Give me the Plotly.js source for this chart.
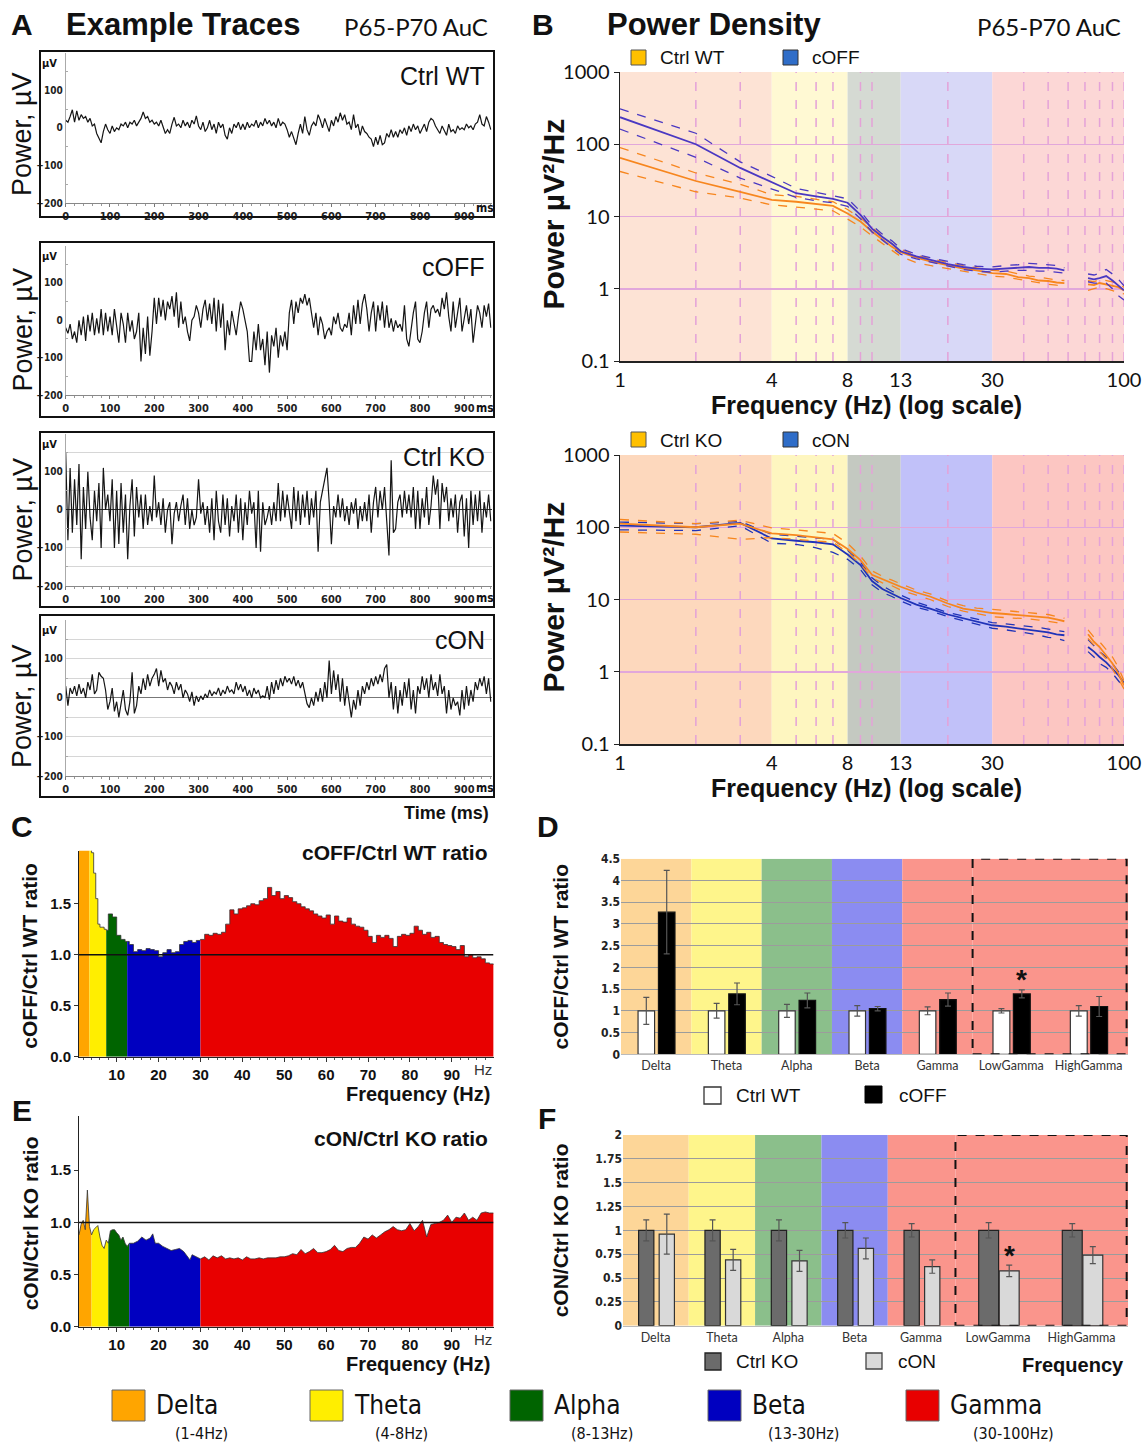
<!DOCTYPE html>
<html><head><meta charset="utf-8">
<script src="https://cdn.plot.ly/plotly-3.0.1.min.js"></script>
<style>html,body{margin:0;padding:0;background:#fff}#chart{width:1143px;height:1445px}</style>
</head><body><div id="chart"></div>
<script>
// ================= DATA =================
// Panel A: example traces (µV), one value every 5 ms from 0 ms
const traceStepMs = 5;
const traceCtrlWT = [20,15,30,48,15,45,20,35,25,30,15,25,5,10,-15,-30,-40,-10,10,-5,
 -15,5,-10,0,-5,10,5,15,0,15,10,20,5,15,25,42,25,30,15,20,
 10,15,5,20,0,-15,-5,-15,10,28,5,10,0,20,5,15,0,20,10,32,
 5,-5,15,-10,0,20,-5,10,-15,15,0,10,-20,-30,0,-15,10,0,15,-5,
 10,-5,15,0,10,5,20,0,15,5,25,10,20,5,15,0,25,5,15,10,
 -5,-25,-10,-30,-45,-15,10,-15,30,-5,-20,5,15,5,35,20,0,25,10,-10,
 20,5,30,15,40,20,35,10,15,-5,35,0,10,-20,5,-10,-15,-25,-30,-50,
 -25,-45,-20,-45,-40,-15,-25,-5,-25,-10,-25,-5,-15,0,-20,5,-10,10,-5,5,
 -15,0,10,-10,15,25,20,5,-5,-15,5,-10,-20,10,-10,-5,-15,5,-5,0,
 -5,10,0,5,-5,10,15,35,10,5,30,15,-5];
const traceCOFF = [-20,-35,-10,-50,-30,-60,0,-40,10,-55,15,-30,20,-40,5,-35,30,-40,20,-30,
 10,-40,30,-20,-60,20,-10,-60,20,-30,0,-50,-30,20,-110,-20,-90,10,-95,-30,
 60,-10,60,10,55,0,50,30,65,10,75,-20,50,-10,10,-30,-55,0,10,40,
 20,-20,30,55,0,45,-10,60,-30,55,-20,45,-80,0,-40,25,-10,-40,10,50,
 30,0,-30,-110,-110,-30,-80,-10,-80,-50,-120,-30,-140,-40,-70,-20,-100,-40,-70,-30,
 -80,20,55,-10,50,20,60,45,70,40,60,20,-20,20,-40,10,-10,-50,-30,-20,
 -40,10,-10,20,-20,-30,-10,-20,20,-40,40,-10,55,-10,45,70,30,-30,20,50,
 -30,40,0,50,-20,40,-20,5,-30,0,-20,-10,-30,40,-50,-70,-20,20,50,-50,
 -60,-30,20,50,-20,30,40,20,30,10,60,30,75,10,-30,50,-20,20,60,-30,
 10,40,-10,30,-60,-10,40,20,-20,40,10,45,-20];
const traceCtrlKO = [150,-80,110,-60,80,-40,120,-130,60,-50,100,-20,-80,50,-30,70,-100,110,0,40,
 -30,80,-100,50,-90,70,-60,40,-130,10,80,-70,60,-20,40,-50,40,-40,10,-30,
 90,-20,20,-40,30,-60,0,20,-90,-10,20,-30,10,40,-40,30,-50,0,-40,-20,
 80,-10,20,-40,10,-60,30,-80,50,-30,-60,40,-40,30,-70,10,-30,40,-60,30,
 -80,20,-40,50,-10,20,-100,50,-110,20,-40,-20,10,-40,20,-30,70,-30,50,-20,
 40,-10,-50,60,-30,50,-40,40,-20,50,-40,30,-20,50,-110,20,50,70,110,20,
 -90,10,-20,40,-20,30,-30,10,-40,20,-10,30,-50,10,-30,20,-30,40,-60,20,
 60,-20,50,0,60,-30,-120,130,-60,-50,20,40,-20,50,-10,40,-20,60,-50,50,
 -50,30,-20,60,-40,10,90,40,80,-50,70,20,60,-30,30,-20,40,-60,20,40,
 -70,30,-100,50,-40,40,-30,50,-60,20,-20,40,-30];
const traceCON = [30,-20,25,10,30,5,35,10,25,0,40,20,60,10,20,65,55,50,20,-30,
 -10,25,-35,-10,-50,-20,20,-30,-45,-10,65,-40,-20,30,10,50,20,60,30,50,
 60,75,30,70,40,50,20,40,30,10,40,20,35,0,20,10,-10,15,-20,5,
 -10,5,-5,10,0,20,5,15,10,25,5,20,10,30,15,20,10,40,20,35,
 15,30,5,20,0,25,10,20,0,5,0,30,-5,40,10,45,20,50,30,55,
 40,50,35,55,30,45,25,40,10,-15,-25,0,-20,15,-10,25,-10,40,0,95,
 10,70,20,60,-10,50,-20,30,-10,-50,-5,-30,20,-20,30,10,40,20,50,30,
 55,35,60,40,75,85,0,40,-30,30,-40,20,-20,40,0,50,-30,20,-40,30,
 10,55,20,50,0,60,20,40,5,60,10,30,-40,20,-30,0,-20,-10,-45,20,
 -30,30,-20,20,-10,40,20,50,30,55,10,50,-10];

// Panel B: power spectral density (µV²/Hz); null = gap around 60 Hz
const freqB = [1,2,3,4,5,6,7,8,9,10,11,12,13,15,17,20,23,26,30,34,38,42,46,50,54,58,null,72,76,80,85,90,95,100];
const wtMean = [65,31,22,17,16,15,14,11,8.5,6.2,4.8,3.8,3.2,2.7,2.4,2.1,1.9,1.8,1.65,1.6,1.45,1.4,1.3,1.28,1.22,1.2,null,1.15,1.12,1.2,1.15,1.1,1.05,0.95];
const wtUp   = [90,40,28,20,19,17.5,16,12.5,9.5,7,5.3,4.2,3.5,2.9,2.6,2.3,2.1,1.95,1.8,1.75,1.6,1.5,1.45,1.38,1.32,1.3,null,1.3,1.25,1.35,1.3,1.25,1.15,1.05];
const wtLow  = [42,22,18,14.5,13.5,12.8,12,9.2,7.2,5.4,4.2,3.4,2.8,2.3,2.1,1.9,1.75,1.6,1.5,1.45,1.35,1.28,1.2,1.15,1.12,1.1,null,0.95,1.0,1.05,1.0,0.95,0.9,0.85];
const offMean = [237,100,47,30,21,19,17.5,15.5,10.5,6.8,5.2,4.2,3.3,2.8,2.5,2.2,2.0,1.9,1.85,1.9,1.95,2.0,1.95,1.95,1.9,1.8,null,1.4,1.35,1.4,1.5,1.3,1.1,0.95];
const offUp   = [310,142,57,36,24.5,21.5,19.5,17.6,11.8,7.5,5.7,4.6,3.6,3.0,2.7,2.4,2.15,2.05,2.0,2.1,2.15,2.25,2.2,2.15,2.1,1.95,null,1.6,1.55,1.65,1.85,1.6,1.35,1.1];
const offLow  = [162,66,34,24,18.4,16.5,15.5,13.8,9.3,6.1,4.7,3.8,3.0,2.6,2.35,2.05,1.85,1.75,1.7,1.75,1.8,1.8,1.75,1.75,1.7,1.65,null,1.25,1.2,1.2,1.2,1.0,0.8,0.7];
const koMean = [112,100,112,82,78,73,68,50,35,22,19,17,15,12.5,11,8.8,7.5,7.0,6.5,6.3,6.1,6.0,5.8,5.6,5.3,5.0,null,3.3,2.6,2.2,1.7,1.3,0.95,0.65];
const koUp   = [128,112,125,98,92,87,82,60,40,25,21,18.5,16.5,13.5,12,9.5,8.2,7.6,7.3,7.0,6.8,6.6,6.4,6.2,5.8,5.5,null,3.8,3.0,2.6,2.0,1.6,1.15,0.75];
const koLow  = [86,80,68,72,68,65,62,45,31,20,17,15.5,13.5,11.5,10,8,6.9,6.4,5.8,5.6,5.5,5.4,5.2,5.0,4.8,4.5,null,2.9,2.3,1.9,1.5,1.1,0.8,0.58];
const onMean = [105,100,115,70,65,62,58,42,30,18,14,12,10.5,8.5,7.5,6.2,5.5,5.0,4.4,4.2,4.0,3.8,3.6,3.5,3.3,3.2,null,2.2,1.9,1.6,1.35,1.1,0.9,0.7];
const onUp   = [118,112,120,80,75,72,68,48,33,20,15.5,13,11.5,9.2,8,6.6,5.9,5.4,4.8,4.6,4.4,4.3,4.1,3.9,3.7,3.6,null,2.8,2.3,1.9,1.6,1.3,1.0,0.8];
const onLow  = [92,90,105,60,58,52,45,36,26,16,12.5,11,9.5,7.8,7,5.8,5.1,4.6,4.0,3.8,3.6,3.4,3.2,3.0,2.9,2.7,null,1.9,1.6,1.3,1.15,0.95,0.75,0.6];

// Panel C: cOFF / Ctrl WT ratio spectrum
const freqC = [1,2,3,3.5,4,4.5,5,5.5,6,7,7.5,8,9,10,11,12,12.5,13,14,15,16,17,18,19,20,21,22,23,24,25,26,27,28,29,30,
 31,32,33,34,35,36,37,38,39,40,41,42,43,44,45,46,47,48,49,50,51,52,53,54,55,56,57,58,59,60,61,62,63,64,65,66,67,68,69,70,
 71,72,73,74,75,76,77,78,79,80,81,82,83,84,85,86,87,88,89,90,91,92,93,94,95,96,97,98,99,100];
const ratioC = [2.5,2.6,2.3,2.2,2.0,1.8,1.55,1.3,1.27,1.25,1.24,1.40,1.37,1.19,1.15,1.13,1.13,1.10,1.03,1.05,1.04,1.06,1.05,1.04,0.98,1.02,1.05,1.02,1.03,1.10,1.13,1.14,1.12,1.14,1.15,
 1.20,1.19,1.21,1.20,1.22,1.30,1.44,1.40,1.45,1.46,1.48,1.50,1.49,1.53,1.55,1.66,1.58,1.62,1.55,1.58,1.56,1.52,1.50,1.47,1.45,1.43,1.40,1.38,1.36,1.39,1.30,1.38,1.33,1.32,1.36,1.30,1.28,1.27,1.24,1.18,
 1.12,1.19,1.17,1.19,1.16,1.08,1.18,1.20,1.19,1.21,1.28,1.24,1.20,1.22,1.17,1.18,1.12,1.10,1.09,1.08,1.05,1.09,0.98,1.00,0.97,0.98,0.96,0.92,0.91,0.90];
const bandEdgesC = [1,3.5,7.5,12.5,30,100];

// Panel E: cON / Ctrl KO ratio spectrum
const freqE = [1,1.5,2,2.5,3,3.5,4,4.5,5,5.5,6,6.5,7,7.5,8,8.5,9,9.5,10,10.5,11,11.5,12,12.5,13,14,15,16,17,18,18.6,19.2,20,21,22,23,24,25,26,27,27.5,28,29,30,
 31,32,33,34,35,36,37,38,39,40,41,42,43,44,45,46,47,48,49,50,51,52,53,54,55,56,57,58,59,60,61,62,63,64,65,66,67,68,69,70,
 71,72,73,74,75,76,77,78,79,80,81,82,83,84,85,86,87,88,89,90,91,92,93,94,95,96,97,98,99,100];
const ratioE = [0.88,0.98,1.02,0.93,1.31,0.96,0.88,0.93,0.95,0.97,0.86,0.78,0.75,0.83,0.80,0.92,0.93,0.93,0.90,0.88,0.83,0.86,0.80,0.77,0.80,0.80,0.82,0.86,0.83,0.85,0.89,0.80,0.80,0.77,0.75,0.73,0.74,0.75,0.72,0.66,0.64,0.69,0.67,0.65,
 0.67,0.64,0.68,0.66,0.68,0.65,0.66,0.65,0.66,0.64,0.67,0.65,0.65,0.66,0.65,0.66,0.66,0.66,0.67,0.67,0.68,0.70,0.69,0.74,0.70,0.72,0.75,0.71,0.71,0.72,0.74,0.78,0.73,0.72,0.75,0.76,0.76,0.80,0.86,0.84,
 0.88,0.85,0.88,0.91,0.93,0.96,0.93,0.92,0.93,0.99,0.92,0.96,1.02,0.86,0.98,0.99,1.00,1.02,1.07,1.00,1.05,1.04,1.09,1.02,1.05,1.02,1.09,1.10,1.09,1.09];
const bandEdgesE = [1,4,8,13,30,100];

// Panels D and F: band ratios (mean ± error)
const bandCats = ['Delta','Theta','Alpha','Beta','Gamma','LowGamma','HighGamma'];
const dCtrlWT = [1,1,1,1,1,1,1];
const dCtrlWTErr = [0.31,0.17,0.15,0.12,0.09,0.05,0.12];
const dCOFF = [3.27,1.39,1.24,1.05,1.26,1.39,1.10];
const dCOFFErr = [0.96,0.25,0.17,0.05,0.15,0.09,0.23];
const fCtrlKO = [1,1,1,1,1,1,1];
const fCtrlKOErr = [0.11,0.11,0.11,0.08,0.07,0.08,0.07];
const fCON = [0.96,0.69,0.68,0.81,0.62,0.575,0.74];
const fCONErr = [0.21,0.11,0.11,0.11,0.07,0.06,0.09];

// Legend bands
const bandNames = ['Delta','Theta','Alpha','Beta','Gamma'];
const bandRanges = ['(1-4Hz)','(4-8Hz)','(8-13Hz)','(13-30Hz)','(30-100Hz)'];
const bandFreqB = [1,4,8,13,30,100];
const dashFreqB = [2,3,5,6,7,9,10,20,40,50,60,70,80,90,100];

// ================= STYLE / LAYOUT =================
const W = 1143, H = 1445;
const SANS = 'Liberation Sans, Arial, sans-serif';
const NARROW = 'Liberation Sans Narrow, Arial Narrow, DejaVu Sans Condensed, Liberation Sans, sans-serif';
const CAL = 'Lato, Carlito, Liberation Sans, sans-serif';
const dx = (l, r) => [l / W, r / W];
const dy = (t, b) => [1 - b / H, 1 - t / H];

const traces = [];
const shapes = [];
const annotations = [];
const layout = {
  width: W, height: H, margin: {l: 0, r: 0, t: 0, b: 0},
  paper_bgcolor: '#fff', plot_bgcolor: 'rgba(0,0,0,0)', showlegend: false,
  shapes, annotations
};

function txt(x, y, text, size, o = {}) {
  annotations.push({
    xref: 'paper', yref: 'paper', x: x / W, y: 1 - y / H, text, showarrow: false,
    xanchor: o.xa || 'center', yanchor: o.ya || 'middle', textangle: o.angle || 0,
    font: {family: o.family || SANS, size, color: o.color || '#111', weight: o.weight || 'normal'}
  });
}
function rectPx(x0, y0, x1, y1, fill, line, lw, dash) {
  shapes.push({type: 'rect', xref: 'paper', yref: 'paper', x0: x0 / W, x1: x1 / W, y0: 1 - y1 / H, y1: 1 - y0 / H,
    fillcolor: fill || 'rgba(0,0,0,0)', line: {color: line || 'rgba(0,0,0,0)', width: lw || 0, dash: dash || 'solid'}, layer: 'above'});
}

// ---------- Panel A ----------
const aTraces = [traceCtrlWT, traceCOFF, traceCtrlKO, traceCON];
const aNames = ['Ctrl WT', 'cOFF', 'Ctrl KO', 'cON'];
const aPlot = [[53, 203], [246, 395], [434, 586], [620, 776]];
const aBox = [[51, 217], [242, 417], [432, 607], [615, 797]];
const aGrid = [false, false, true, true];
aTraces.forEach((vals, k) => {
  const i = k + 1;
  traces.push({x: vals.map((v, j) => j * traceStepMs), y: vals, xaxis: 'x' + i, yaxis: 'y' + i,
    type: 'scatter', mode: 'lines', line: {color: '#151515', width: 1.2}, hoverinfo: 'skip'});
  layout['xaxis' + i] = {domain: dx(65.7, 491.7), range: [0, 962], anchor: 'y' + i, tickmode: 'linear', tick0: 0, dtick: 100,
    ticks: 'outside', ticklen: 3, tickcolor: '#777', showline: true, linecolor: '#888', showgrid: false, zeroline: false,
    tickfont: {family: NARROW, size: 11, weight: 'bold', color: '#222'},
    minor: {dtick: 20, tick0: 0, ticks: 'outside', ticklen: 2, tickcolor: '#999'}};
  layout['yaxis' + i] = {domain: dy(aPlot[k][0], aPlot[k][1]), range: [-200, 199], anchor: 'x' + i, tickmode: 'linear', tick0: -200, dtick: 100,
    ticks: '', showline: true, linecolor: '#aaa', showgrid: aGrid[k], gridcolor: '#d6d6d6',
    zeroline: aGrid[k], zerolinecolor: k === 2 ? '#333' : '#777', zerolinewidth: 1,
    tickfont: {family: NARROW, size: 10, weight: 'bold', color: '#222'},
    minor: {dtick: 50, tick0: 0, ticks: 'inside', ticklen: 2, tickcolor: '#aaa', showgrid: aGrid[k], gridcolor: '#d6d6d6'}};
  rectPx(40, aBox[k][0], 494, aBox[k][1], null, '#111', 2);
  txt(487, aBox[k][0] + 25, aNames[k], 25, {xa: 'right'});
  txt(22, (aBox[k][0] + aBox[k][1]) / 2, 'Power, µV', 27, {angle: -90});
  txt(49, aPlot[k][0] + 10, 'µV', 11, {family: NARROW, weight: 'bold'});
  txt(485, aBox[k][1] - 9, 'ms', 12, {family: NARROW, weight: 'bold'});
});
txt(22, 24, 'A', 30, {weight: 'bold'});
txt(64, 24, 'Example Traces', 31, {weight: 'bold', xa: 'left'});
txt(490, 27, 'P65-P70 AuC', 24, {family: CAL, xa: 'right'});
txt(491, 813, 'Time (ms)', 18, {weight: 'bold', xa: 'right'});

// ---------- Panel B ----------
const bBandTop = ['#fde3d5', '#fff9d3', '#d5dad3', '#d8d8f7', '#fcd7d6'];
const bBandBot = ['#fdd8bd', '#fef6c0', '#c4c9c1', '#c1c1f9', '#fcc6c2'];
function bPanel(i, top, bottom, bands, sets, legendY, legendNames) {
  layout['xaxis' + i] = {domain: dx(620, 1124), type: 'log', range: [0, 2], anchor: 'y' + i, tickmode: 'array',
    tickvals: [1, 4, 8, 13, 30, 100], ticktext: ['1', '4', '8', '13', '30', '100'], ticks: '', showline: true,
    linecolor: '#222', linewidth: 1.5, showgrid: false, zeroline: false, tickfont: {family: CAL, size: 20, color: '#111'}};
  layout['yaxis' + i] = {domain: dy(top, bottom), type: 'log', range: [-1, 3], anchor: 'x' + i, tickmode: 'array',
    tickvals: [0.1, 1, 10, 100, 1000], ticktext: ['0.1', '1', '10', '100', '1000'], ticks: 'outside', ticklen: 5,
    tickcolor: '#222', showline: true, linecolor: '#222', linewidth: 1.5, showgrid: true, gridcolor: '#e1a7db',
    gridwidth: 1.5, zeroline: false, tickfont: {family: CAL, size: 20, color: '#111'}};
  for (let b = 0; b < 5; b++) {
    shapes.push({type: 'rect', xref: 'x' + i, yref: 'y' + i + ' domain', x0: bandFreqB[b], x1: bandFreqB[b + 1], y0: 0, y1: 1,
      fillcolor: bands[b], line: {width: 0}, layer: 'below'});
  }
  dashFreqB.forEach(f => shapes.push({type: 'line', xref: 'x' + i, yref: 'y' + i + ' domain', x0: f, x1: f, y0: 0, y1: 1,
    line: {color: '#e4a2d8', width: 1.5, dash: 'dash'}, layer: 'below'}));
  sets.forEach(s => {
    traces.push({x: freqB, y: s.y, xaxis: 'x' + i, yaxis: 'y' + i, type: 'scatter', mode: 'lines', connectgaps: false,
      line: {color: s.c, width: s.dash ? 1.3 : 1.8, dash: s.dash ? 'dash' : 'solid'}, hoverinfo: 'skip'});
  });
  // legend
  rectPx(631, legendY - 8, 646, legendY + 7, '#ffc000', '#555', 1);
  txt(658, legendY, legendNames[0], 19, {xa: 'left'});
  rectPx(783, legendY - 8, 798, legendY + 7, '#2f6dc8', '#333', 1);
  txt(810, legendY, legendNames[1], 19, {xa: 'left'});
  txt(553, (top + bottom) / 2 - 2, 'Power µV²/Hz', 30, {weight: 'bold', angle: -90});
  txt(866, bottom + 44, 'Frequency (Hz) (log scale)', 25, {weight: 'bold'});
}
const ORANGE = '#f7861e', PURPLE = '#4a38c2', BLUE = '#1f33b8';
bPanel(5, 72, 361, bBandTop, [
  {y: wtUp, c: ORANGE, dash: true}, {y: wtLow, c: ORANGE, dash: true}, {y: wtMean, c: ORANGE},
  {y: offUp, c: PURPLE, dash: true}, {y: offLow, c: PURPLE, dash: true}, {y: offMean, c: PURPLE}
], 58, ['Ctrl WT', 'cOFF']);
bPanel(6, 455, 744, bBandBot, [
  {y: onUp, c: BLUE, dash: true}, {y: onLow, c: BLUE, dash: true}, {y: onMean, c: BLUE},
  {y: koUp, c: ORANGE, dash: true}, {y: koLow, c: ORANGE, dash: true}, {y: koMean, c: ORANGE}
], 440, ['Ctrl KO', 'cON']);
txt(543, 24, 'B', 30, {weight: 'bold'});
txt(605, 24, 'Power Density', 31, {weight: 'bold', xa: 'left'});
txt(1123, 27, 'P65-P70 AuC', 24, {family: CAL, xa: 'right'});

// ---------- Panels C & E ----------
const ratioColors = ['#ffa500', '#ffee00', '#006400', '#0000c0', '#e80000'];
function ratioPanel(i, top, bottom, freq, vals, edges, shape, title, titleY, ytitle) {
  for (let b = 0; b < 5; b++) {
    const xs = [], ys = [];
    freq.forEach((f, j) => { if (f >= edges[b] && f <= edges[b + 1]) { xs.push(f); ys.push(vals[j]); } });
    traces.push({x: xs, y: ys, xaxis: 'x' + i, yaxis: 'y' + i, type: 'scatter', mode: 'lines', fill: 'tozeroy',
      fillcolor: ratioColors[b], line: {color: '#333', width: 0.8, shape}, hoverinfo: 'skip'});
  }
  layout['xaxis' + i] = {domain: dx(79, 493.5), range: [1, 99.95], anchor: 'y' + i, tickmode: 'linear', tick0: 10, dtick: 10,
    ticks: 'outside', ticklen: 4, tickcolor: '#333', showline: true, linecolor: '#222', showgrid: false, zeroline: false,
    tickfont: {family: SANS, size: 15, weight: 'bold', color: '#111'},
    minor: {dtick: 2, tick0: 0, ticks: 'outside', ticklen: 2, tickcolor: '#555'}};
  layout['yaxis' + i] = {domain: dy(top, bottom), range: [0, 2.02], anchor: 'x' + i, tickmode: 'array',
    tickvals: [0, 0.5, 1, 1.5], ticktext: ['0.0', '0.5', '1.0', '1.5'], ticks: 'outside', ticklen: 4, tickcolor: '#333',
    showline: true, linecolor: '#222', showgrid: false, zeroline: false,
    tickfont: {family: SANS, size: 15, weight: 'bold', color: '#111'}};
  shapes.push({type: 'line', xref: 'x' + i, yref: 'y' + i, x0: 1, x1: 99.95, y0: 1, y1: 1, line: {color: '#111', width: 1.5}, layer: 'above'});
  txt(490, titleY, title, 21, {weight: 'bold', xa: 'right'});
  txt(30, (top + bottom) / 2 + 2, ytitle, 21, {weight: 'bold', angle: -90});
  txt(483, bottom + 13, 'Hz', 15, {color: '#333'});
  txt(492, bottom + 37, 'Frequency (Hz)', 20, {weight: 'bold', xa: 'right'});
}
ratioPanel(7, 850.7, 1056.7, freqC, ratioC, bandEdgesC, 'hv', 'cOFF/Ctrl WT ratio', 852, 'cOFF/Ctrl WT ratio');
ratioPanel(9, 1116, 1326.7, freqE, ratioE, bandEdgesE, 'linear', 'cON/Ctrl KO ratio', 1138, 'cON/Ctrl KO ratio');
txt(22, 826, 'C', 30, {weight: 'bold'});
txt(22, 1110, 'E', 30, {weight: 'bold'});

// ---------- Panels D & F ----------
const barBandColors = ['#fdd698', '#fef58b', '#8bbf8b', '#8b8cf1', '#fa958c'];
function barPanel(i, l, r, top, bottom, centers, edges, ymax, dtick, widths, offs, s1, s2, starY, ytitle) {
  layout['xaxis' + i] = {domain: dx(l, r), range: [edges[0], edges[6]], anchor: 'y' + i, tickmode: 'array',
    tickvals: centers, ticktext: bandCats, ticks: '', showline: true, linecolor: '#bbb', showgrid: false, zeroline: false,
    tickfont: {family: CAL, size: 12.5, color: '#333'}};
  layout['yaxis' + i] = {domain: dy(top, bottom), range: [0, ymax], anchor: 'x' + i, tickmode: 'linear', tick0: 0, dtick,
    ticks: '', showline: false, showgrid: true, gridcolor: '#9c9c9c', gridwidth: 1, zeroline: false,
    tickfont: {family: NARROW, size: 12, weight: 'bold', color: '#222'}};
  for (let b = 0; b < 5; b++) {
    shapes.push({type: 'rect', xref: 'x' + i, yref: 'y' + i, x0: edges[b], x1: b === 4 ? edges[5] : edges[b + 1], y0: 0, y1: ymax,
      fillcolor: barBandColors[b], line: {width: 0}, layer: 'below'});
  }
  shapes.push({type: 'rect', xref: 'x' + i, yref: 'y' + i, x0: edges[5], x1: edges[6], y0: 0, y1: ymax,
    fillcolor: barBandColors[4], line: {width: 0}, layer: 'below'});
  [s1, s2].forEach((s, k) => {
    traces.push({type: 'bar', x: centers.map((c, j) => c + offs[k]), y: s.y, width: widths, xaxis: 'x' + i, yaxis: 'y' + i,
      marker: {color: s.fill, line: {color: s.edge, width: 1.2}},
      error_y: {type: 'data', array: s.err, visible: true, color: '#555', thickness: 1.2, width: 3}, hoverinfo: 'skip'});
  });
  shapes.push({type: 'rect', xref: 'x' + i, yref: 'y' + i, x0: edges[5], x1: edges[6] - 0.02, y0: 0, y1: ymax,
    line: {color: '#111', width: 2, dash: 'dash'}, layer: 'above'});
  annotations.push({xref: 'x' + i, yref: 'y' + i, x: centers[5] + offs[1], y: starY, text: '*', showarrow: false,
    font: {family: SANS, size: 28, weight: 'bold', color: '#111'}});
  txt(560, (top + bottom) / 2, ytitle, 21, {weight: 'bold', angle: -90});
}
barPanel(8, 621, 1128, 858.7, 1054.3, [0, 1, 2, 3, 4, 5.05, 6.15], [-0.5, 0.5, 1.5, 2.5, 3.5, 4.5, 6.71], 4.5, 0.5,
  [0.235, 0.235, 0.235, 0.235, 0.235, 0.24, 0.24], [-0.14, 0.15],
  {y: dCtrlWT, err: dCtrlWTErr, fill: '#ffffff', edge: '#333'}, {y: dCOFF, err: dCOFFErr, fill: '#000000', edge: '#111'},
  1.72, 'cOFF/Ctrl WT ratio');
barPanel(10, 623, 1128, 1135, 1325.7, [0, 1, 2, 3, 4, 5.16, 6.42], [-0.49, 0.5, 1.5, 2.5, 3.5, 4.52, 7.12], 2, 0.25,
  [0.23, 0.23, 0.23, 0.23, 0.23, 0.3, 0.3], [-0.14, 0.17],
  {y: fCtrlKO, err: fCtrlKOErr, fill: '#6b6b6b', edge: '#222'}, {y: fCON, err: fCONErr, fill: '#d9d9d9', edge: '#333'},
  0.74, 'cON/Ctrl KO ratio');
txt(548, 826, 'D', 30, {weight: 'bold'});
txt(547, 1118, 'F', 30, {weight: 'bold'});
// D legend
rectPx(704, 1087, 721, 1104, '#ffffff', '#333', 1.3);
txt(734, 1095, 'Ctrl WT', 19, {xa: 'left'});
rectPx(865, 1086, 882, 1103, '#000000', '#000', 1);
txt(897, 1095, 'cOFF', 19, {xa: 'left'});
// F legend
rectPx(705, 1353, 721, 1370, '#6b6b6b', '#222', 1.3);
txt(734, 1361, 'Ctrl KO', 19, {xa: 'left'});
rectPx(866, 1353, 882, 1369, '#d9d9d9', '#444', 1.3);
txt(896, 1361, 'cON', 19, {xa: 'left'});
txt(1126, 1365, 'Frequency', 20, {weight: 'bold', xa: 'right'});

// ---------- Bottom band legend ----------
const legSqX = [112, 310, 510, 708, 906];
const legSubX = [201, 401, 602, 803, 1013];
bandNames.forEach((n, b) => {
  rectPx(legSqX[b], 1390, legSqX[b] + 33, 1421, ratioColors[b], '#666', 1);
  txt(legSqX[b] + 42, 1405, n, 26, {family: NARROW, xa: 'left'});
  txt(legSubX[b], 1433, bandRanges[b], 16, {family: NARROW});
});

Plotly.newPlot('chart', traces, layout, {staticPlot: true, displayModeBar: false});
</script>
</body></html>
